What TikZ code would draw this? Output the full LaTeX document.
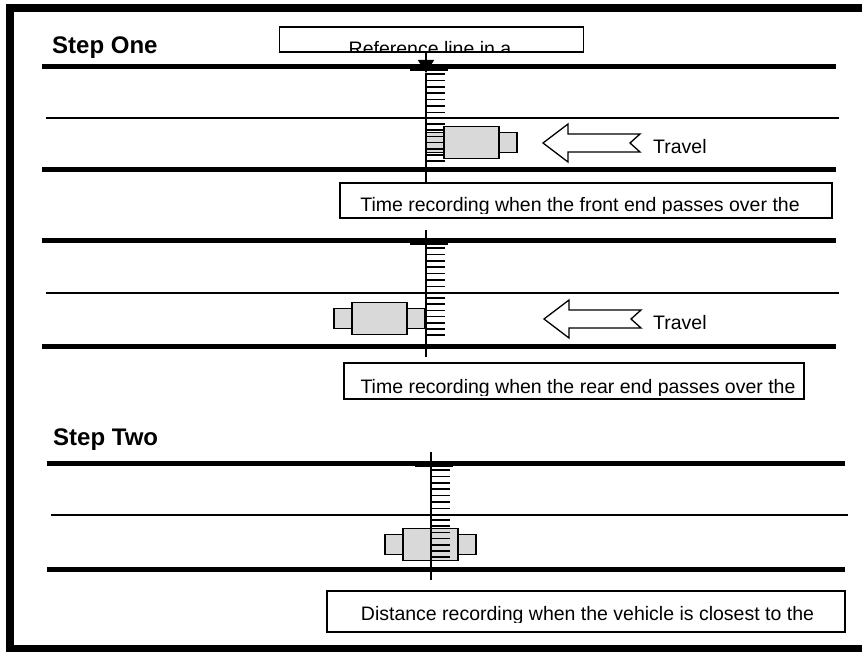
\documentclass[tikz,border=0pt]{standalone}
\usepackage{fontspec}
\setmainfont{Liberation Sans}
\usetikzlibrary{positioning,arrows.meta}

\tikzset{
  kerb/.style={line width=5pt},
  laneline/.style={line width=1.6pt},
  refline/.style={line width=1.4pt},
  tickmark/.style={line width=1.6pt},
  notebox/.style={draw, line width=1.3pt, inner sep=0pt, outer sep=0pt},
  note/.style={font=\fontsize{19.5}{22}\selectfont, inner sep=0pt, anchor=base},
  stephead/.style={font=\fontsize{24}{26}\selectfont\bfseries, inner sep=0pt, anchor=base west},
  carbody/.style={draw, fill=black!15, line width=1.3pt, inner sep=0pt, outer sep=0pt,
    minimum width=55pt, minimum height=32pt},
  carend/.style={draw, fill=black!15, line width=1.3pt, inner sep=0pt, outer sep=0pt,
    minimum width=18pt, minimum height=20pt},
  travel/.style={draw, line width=1.3pt, fill=white, line join=miter},
}

\begin{document}
\begin{tikzpicture}[x=1pt,y=-1pt]
\useasboundingbox (0,0) rectangle (862,652);

% frame
\draw[line width=8pt, line join=miter] (862,8.5) -| (10,649) -- (862,649);

% headings
\node[stephead] (stepone) at (52,54) {Step One};
\node[stephead] (steptwo) at (53,445) {Step Two};

% roads: kerb, lane, kerb
\foreach \a/\b/\c/\l/\r in {67/118/170/42/836, 241/293/346/42/836, 463/515/569/47/845} {
  \draw[kerb] (\l,\a) -- (\r,\a);
  \draw[laneline] (\l+4,\b) -- (\r+3,\b);
  \draw[kerb] (\l,\c) -- (\r,\c);
}

% vehicles
\node[carbody] (bodyA) at (471.5,142.5) {};
\node[carend, left=0pt of bodyA] (frontA) {};
\node[carend, right=0pt of bodyA] (rearA) {};

\node[carbody] (bodyB) at (379.5,318.5) {};
\node[carend, left=0pt of bodyB] (frontB) {};
\node[carend, right=0pt of bodyB] (rearB) {};

\node[carbody] (bodyC) at (430.5,544.5) {};
\node[carend, left=0pt of bodyC] (frontC) {};
\node[carend, right=0pt of bodyC] (rearC) {};

% direction of travel
\draw[travel] (543,143) -- ++(25,-19) -- ++(0,10) -- ++(72,0) -- ++(-10,9)
  -- ++(10,9) -- ++(-72,0) -- ++(0,10) -- cycle;
\node[note, anchor=base west] (travelA) at (653,154) {Travel};
\draw[travel] (544,319) -- ++(25,-19) -- ++(0,10) -- ++(72,0) -- ++(-10,9)
  -- ++(10,9) -- ++(-72,0) -- ++(0,10) -- cycle;
\node[note, anchor=base west] (travelB) at (653,330) {Travel};

% measuring ticks
\foreach \a/\x in {67/426, 241/426, 463/431} {
  \draw[line width=2pt] (\x-16,\a+3) -- (\x+22,\a+3);
  \foreach \k in {0,...,6} {
    \draw[tickmark] (\x,{\a+7+6.4*\k}) -- ++(19,0);
    \draw[tickmark] (\x,{\a+57+6.2*\k}) -- ++(19,0);
  }
}

% text boxes
\node[notebox, minimum width=304pt, minimum height=25pt] (refbox) at (431.5,39.5) {};
\node[notebox, minimum width=492pt, minimum height=35pt] (frontbox) at (586,200.5) {};
\node[notebox, minimum width=460pt, minimum height=36pt] (rearbox) at (574,381) {};
\node[notebox, minimum width=518pt, minimum height=41pt] (distbox) at (586,611.5) {};

\begin{scope}
  \clip (refbox.north west) rectangle ([yshift=1pt]refbox.south east);
  \node[note] (reftext) at (430,56) {Reference line in a};
\end{scope}
\begin{scope}
  \clip (frontbox.north west) rectangle ([yshift=4pt]frontbox.south east);
  \node[note] (fronttext) at (580,212) {Time recording when the front end passes over the};
\end{scope}
\begin{scope}
  \clip (rearbox.north west) rectangle ([yshift=4pt]rearbox.south east);
  \node[note] (reartext) at (578,393) {Time recording when the rear end passes over the};
\end{scope}
\begin{scope}
  \clip (distbox.north west) rectangle ([yshift=10pt]distbox.south east);
  \node[note] (disttext) at (587.5,620) {Distance recording when the vehicle is closest to the};
\end{scope}

% reference lines
\coordinate (tipA) at (426,73);
\draw[refline, -{Triangle[width=16pt,length=13pt]}] (refbox.south -| tipA) -- (tipA);
\draw[refline] (tipA) -- (frontbox.north -| tipA);
\coordinate (topB) at (426,230);
\coordinate (endB) at (426,357);
\draw[refline] (topB) -- (endB);
\coordinate (topC) at (431,452);
\coordinate (endC) at (431,580);
\draw[refline] (topC) -- (endC);
\end{tikzpicture}
\end{document}
